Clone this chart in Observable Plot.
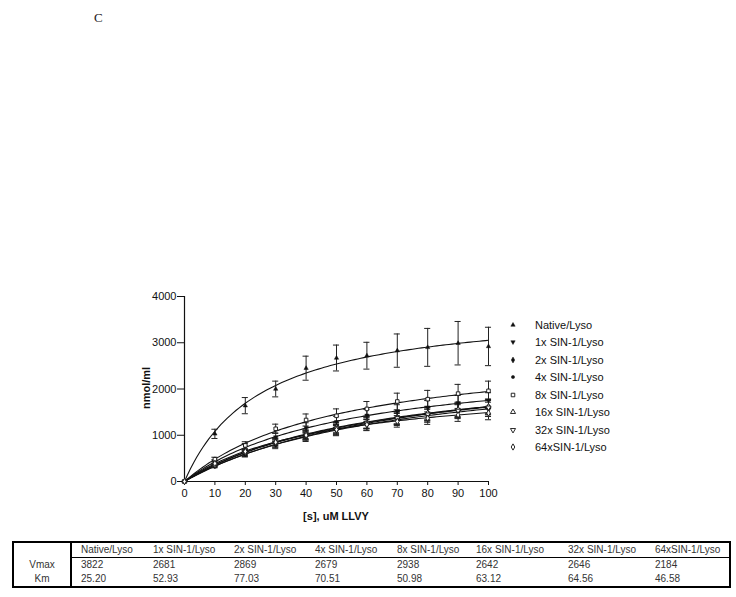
<!DOCTYPE html>
<html>
<head>
<meta charset="utf-8">
<script src="https://cdn.jsdelivr.net/npm/d3@7"></script>
<script src="https://cdn.jsdelivr.net/npm/@observablehq/plot@0.6"></script>
<style>
  body { margin: 0; background: #fff; width: 736px; height: 597px; position: relative; overflow: hidden; font-family: "Liberation Sans", Arial, sans-serif; }
  #panel { position: absolute; left: 94px; top: 10px; font-family: "Liberation Serif", "DejaVu Serif", serif; font-size: 13px; color: #222; }
  #chart { position: absolute; left: 0; top: 280px; }
  #ylab { position: absolute; left: 146px; top: 388px; transform: translate(-50%, -50%) rotate(-90deg); font-weight: bold; font-size: 11px; color: #111; white-space: nowrap; }
  #xlab { position: absolute; left: 336px; top: 516px; transform: translate(-50%, -50%); font-weight: bold; font-size: 11px; color: #111; white-space: nowrap; }
  #legend { position: absolute; left: 505px; top: 316px; font-size: 11px; color: #111; }
  #legend .row { height: 17.5px; display: flex; align-items: center; }
  #legend svg { width: 16px; height: 12px; margin-right: 14px; }
  #tbl { position: absolute; left: 12px; top: 541px; border-collapse: collapse; border: 2px solid #000; font-size: 10px; color: #333; table-layout: fixed; }
  #tbl td { height: 14px; padding: 0 0 0 9px; line-height: 14px; white-space: nowrap; overflow: hidden; }
  #tbl td.first { text-align: center; padding: 0; border-right: 2px solid #000; }
  #tbl tr.head td:not(.first) { border-bottom: 1.5px solid #000; }
</style>
</head>
<body>
<div id="panel">C</div>
<div id="chart"></div>
<div id="ylab">nmol/ml</div>
<div id="xlab">[s], uM LLVY</div>
<div id="legend"></div>
<table id="tbl"></table>
<script>
// ---- data ----
const seriesNames = ["Native/Lyso", "1x SIN-1/Lyso", "2x SIN-1/Lyso", "4x SIN-1/Lyso", "8x SIN-1/Lyso", "16x SIN-1/Lyso", "32x SIN-1/Lyso", "64xSIN-1/Lyso"];
const vmax = [3822, 2681, 2869, 2679, 2938, 2642, 2646, 2184];
const km = [25.20, 52.93, 77.03, 70.51, 50.98, 63.12, 64.56, 46.58];
const vmaxLabels = ["3822", "2681", "2869", "2679", "2938", "2642", "2646", "2184"];
const kmLabels = ["25.20", "52.93", "77.03", "70.51", "50.98", "63.12", "64.56", "46.58"];

const substrate = [0, 10, 20, 30, 40, 50, 60, 70, 80, 90, 100];
const xTicks = [0, 10, 20, 30, 40, 50, 60, 70, 80, 90, 100];
const yTicks = [0, 1000, 2000, 3000, 4000];

const nativeY = [0, 1030, 1640, 2000, 2450, 2670, 2720, 2830, 2900, 2990, 2920];
const nativeErr = [0, 100, 175, 170, 260, 280, 290, 360, 410, 470, 415];
const s1xY = [0, 430, 750, 960, 1160, 1290, 1430, 1520, 1600, 1700, 1750];
const s1xErr = [0, 40, 70, 90, 110, 120, 130, 140, 150, 160, 170];
const s2xY = [0, 340, 600, 820, 990, 1120, 1260, 1370, 1460, 1530, 1620];
const s2xErr = [0, 35, 60, 80, 95, 110, 120, 130, 140, 150, 160];
const s4xY = [0, 330, 590, 790, 960, 1100, 1220, 1340, 1420, 1510, 1560];
const s4xErr = [0, 35, 60, 80, 95, 110, 120, 130, 140, 150, 155];
const s8xY = [0, 480, 780, 1140, 1330, 1420, 1570, 1730, 1780, 1900, 1960];
const s8xErr = [0, 45, 80, 100, 130, 150, 160, 180, 190, 200, 210];
const s16xY = [0, 360, 630, 860, 1030, 1170, 1280, 1380, 1480, 1560, 1620];
const s16xErr = [0, 35, 60, 85, 100, 115, 125, 135, 145, 155, 160];
const s32xY = [0, 350, 620, 830, 1000, 1150, 1270, 1370, 1450, 1530, 1600];
const s32xErr = [0, 35, 60, 85, 100, 115, 125, 135, 145, 150, 160];
const s64xY = [0, 390, 650, 850, 1000, 1120, 1230, 1300, 1370, 1440, 1480];
const s64xErr = [0, 35, 60, 80, 95, 110, 120, 125, 135, 140, 145];

const seriesY = [nativeY, s1xY, s2xY, s4xY, s8xY, s16xY, s32xY, s64xY];
const seriesErr = [nativeErr, s1xErr, s2xErr, s4xErr, s8xErr, s16xErr, s32xErr, s64xErr];

// ---- symbols ----
const flip = (sym) => ({draw(ctx, size) {
  sym.draw({moveTo: (x, y) => ctx.moveTo(x, -y), lineTo: (x, y) => ctx.lineTo(x, -y), closePath: () => ctx.closePath(), arc: (...a) => ctx.arc(...a)}, size);
}});
const triDown = flip(d3.symbolTriangle);
const symbols = [d3.symbolTriangle, triDown, d3.symbolDiamond, d3.symbolCircle, d3.symbolSquare, d3.symbolTriangle, triDown, d3.symbolDiamond];
const filled = [true, true, true, true, false, false, false, false];
const radius = [1.6, 1.6, 1.8, 1.6, 2.0, 1.9, 1.9, 1.9];

// ---- marks ----
const marks = [];
const xGrid = d3.range(0, 100.5, 1);
seriesNames.forEach((name, i) => {
  const pts = substrate.map((s, j) => ({x: s, y: seriesY[i][j], e: seriesErr[i][j]}));
  const bars = pts.filter(d => d.e > 0);
  // Michaelis-Menten fit from the table's Vmax and Km
  const fit = xGrid.map(s => ({x: s, y: vmax[i] * s / (km[i] + s)}));
  marks.push(Plot.line(fit, {x: "x", y: "y", stroke: "#111", strokeWidth: 1.1}));
  marks.push(Plot.ruleX(bars, {x: "x", y1: d => d.y - d.e, y2: d => d.y + d.e, stroke: "#222", strokeWidth: 1}));
  marks.push(Plot.ruleY(bars, {y: d => d.y + d.e, x1: d => d.x - 1, x2: d => d.x + 1, stroke: "#222", strokeWidth: 1}));
  marks.push(Plot.ruleY(bars, {y: d => d.y - d.e, x1: d => d.x - 1, x2: d => d.x + 1, stroke: "#222", strokeWidth: 1}));
});
seriesNames.forEach((name, i) => {
  const pts = substrate.map((s, j) => ({x: s, y: seriesY[i][j]}));
  marks.push(Plot.dot(pts, {x: "x", y: "y", symbol: symbols[i], r: radius[i],
    fill: filled[i] ? "#111" : "#fff", stroke: "#111", strokeWidth: filled[i] ? 0.5 : 0.9}));
});

const chart = Plot.plot({
  width: 500,
  height: 250,
  marginLeft: 184,
  marginRight: 12,
  marginTop: 16,
  marginBottom: 49,
  style: {fontFamily: "'Liberation Sans', Arial, sans-serif", fontSize: "11px", color: "#111", background: "transparent"},
  x: {domain: [0, 100], label: null},
  y: {domain: [0, 4000], label: null},
  marks: [
    Plot.axisX({ticks: xTicks, tickSize: 4, tickPadding: 4, label: null, tickFormat: d => String(d)}),
    Plot.axisY({ticks: yTicks, tickSize: 7, tickPadding: 1, label: null, tickFormat: d => String(d)}),
    Plot.ruleX([0], {y1: 0, y2: 4000, stroke: "#111", strokeWidth: 1.2}),
    Plot.ruleY([0], {x1: 0, x2: 100, stroke: "#111", strokeWidth: 1.2}),
    ...marks
  ]
});
document.getElementById("chart").appendChild(chart);

// ---- legend ----
const legend = d3.select("#legend");
seriesNames.forEach((name, i) => {
  const row = legend.append("div").attr("class", "row");
  const svg = row.append("svg");
  svg.append("path")
    .attr("transform", "translate(8,6)")
    .attr("d", d3.symbol(symbols[i], Math.PI * radius[i] * radius[i])())
    .attr("fill", filled[i] ? "#111" : "#fff")
    .attr("stroke", "#111")
    .attr("stroke-width", filled[i] ? 0.5 : 0.9);
  row.append("span").text(name);
});

// ---- table ----
const colWidths = [58, 73, 81, 81, 82, 79, 92, 87, 84];
const tbl = d3.select("#tbl");
const cg = tbl.append("colgroup");
colWidths.forEach(w => cg.append("col").style("width", w + "px"));
const rows = [
  {cls: "head", label: "", cells: seriesNames},
  {cls: "", label: "Vmax", cells: vmaxLabels},
  {cls: "", label: "Km", cells: kmLabels}
];
rows.forEach(r => {
  const tr = tbl.append("tr").attr("class", r.cls);
  tr.append("td").attr("class", "first").text(r.label);
  r.cells.forEach(c => tr.append("td").text(c));
});
</script>
</body>
</html>
